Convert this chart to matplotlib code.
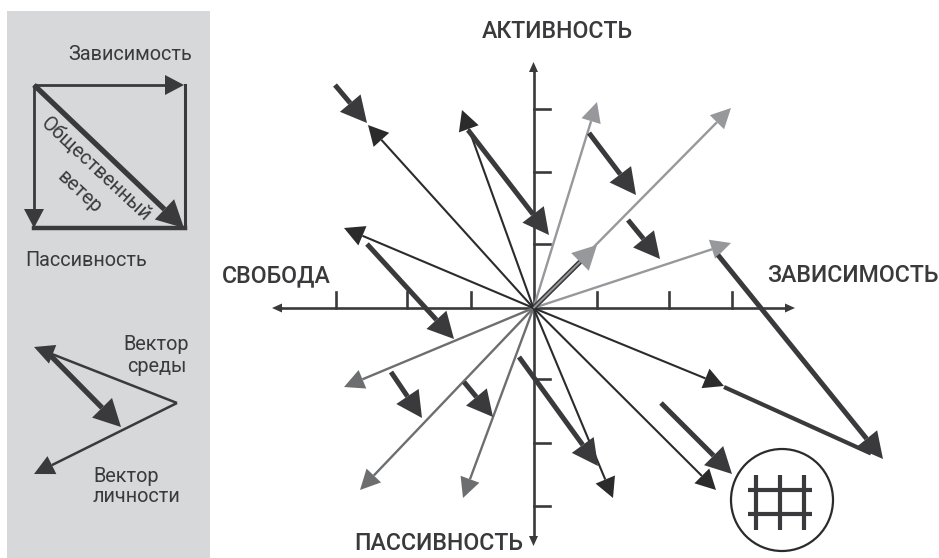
import matplotlib
matplotlib.use('Agg')
import matplotlib.pyplot as plt
import numpy as np
from matplotlib.patches import Circle, Rectangle

# all values, in picture pixels
origin = (533.5, 308)
x_ticks = [336, 407, 471, 597, 669, 732]
y_ticks = [109, 172, 244, 379, 443, 506]

dark_tips = [(368, 125), (462, 110), (344, 228), (724, 386), (716, 490), (613, 498)]
light_tips = [(597, 102), (731, 108), (731, 243)]
mid_tips = [(344, 387), (360, 490), (463, 498)]
short_tip = (597, 245)

wind_starts = [(335, 85), (468, 130), (589, 133), (628, 220), (367, 244),
               (391, 372), (464, 382), (519, 357), (661, 403), (718, 255)]
wind_tips = [(367, 123), (549, 235), (636, 195), (660, 259), (454, 339),
             (422, 418), (493, 417), (598, 466), (732, 474), (883, 459)]
resultant_start = (724, 387)
resultant_end = (883, 459)

square_left, square_right, square_top, square_bottom = 34, 185, 85, 228
env_apex = (177, 403)
env_tips = [(34, 347), (34, 474)]
env_wind = ((50, 355), (121, 427))

grid_x = [756, 780, 804]
grid_y = [490, 514]

DARK = '#3a3a3c'
THIN = '#2b2b2b'
LIGHT = '#97989b'
MID = '#6d6e70'
PANEL = '#d7d8da'

plt.rcParams['font.family'] = ['Roboto', 'DejaVu Sans']

fig = plt.figure(figsize=(9.39, 5.58), dpi=100)
ax = fig.add_axes([0, 0, 1, 1])
ax.set_xlim(0, 939)
ax.set_ylim(558, 0)
ax.axis('off')


def arrow(start, tip, color, lw, head_len, head_w, z=3):
    start = np.array(start, dtype=float)
    tip = np.array(tip, dtype=float)
    d = (tip - start) / np.linalg.norm(tip - start)
    n = np.array([-d[1], d[0]])
    base = tip - d * head_len
    ax.plot([start[0], base[0]], [start[1], base[1]], color=color, lw=lw,
            solid_capstyle='butt', zorder=z)
    head = np.array([tip, base + n * head_w / 2, base - n * head_w / 2])
    ax.fill(head[:, 0], head[:, 1], color=color, lw=0, zorder=z)


# left panel
ax.add_patch(Rectangle((7, 11), 203, 547, color=PANEL, lw=0, zorder=0))
corner = (square_left, square_top)
arrow(corner, (square_right - 1, square_top), DARK, 2.0, 19, 20)
arrow(corner, (square_left, square_bottom), DARK, 2.0, 19, 20)
ax.plot([square_right, square_right], [square_top, square_bottom], color=DARK, lw=2.2, zorder=3)
ax.plot([square_left, square_right], [square_bottom, square_bottom], color=DARK, lw=3.2, zorder=3)
arrow(corner, (square_right - 1, square_bottom), DARK, 3.8, 27, 28)
arrow(env_apex, env_tips[0], DARK, 1.8, 20, 20)
arrow(env_apex, env_tips[1], DARK, 1.8, 20, 20)
arrow(env_wind[0], env_wind[1], DARK, 3.8, 27, 28)

# main axes
ax.plot([280, 787], [origin[1], origin[1]], color=DARK, lw=1.9, zorder=2)
ax.plot([origin[0], origin[0]], [70, 538], color=DARK, lw=1.9, zorder=2)
arrow((280, origin[1]), (272, origin[1]), DARK, 1.9, 10, 9, z=2)
arrow((787, origin[1]), (795, origin[1]), DARK, 1.9, 10, 9, z=2)
arrow((origin[0], 70), (origin[0], 62), DARK, 1.9, 10, 9, z=2)
arrow((origin[0], 538), (origin[0], 546), DARK, 1.9, 10, 9, z=2)
for t in x_ticks:
    ax.plot([t, t], [292, origin[1]], color=DARK, lw=1.9, zorder=2)
for t in y_ticks:
    ax.plot([origin[0], 550], [t, t], color=DARK, lw=1.9, zorder=2)

# vectors from the origin
for tip in light_tips:
    arrow(origin, tip, LIGHT, 1.7, 20, 20)
ax.plot([origin[0], 585], [origin[1], 257], color=DARK, lw=3.6, zorder=3)
arrow(origin, short_tip, LIGHT, 1.4, 24, 25, z=3.5)
for tip in mid_tips:
    arrow(origin, tip, MID, 1.7, 20, 20)
for tip in dark_tips:
    arrow(origin, tip, THIN, 1.5, 20, 21)

for s, t in zip(wind_starts, wind_tips):
    arrow(s, t, DARK, 3.6, 26, 27, z=4)
ax.plot([resultant_start[0], resultant_end[0] - 12], [resultant_start[1], resultant_end[1] - 5.5],
        color=DARK, lw=3.0, solid_capstyle='butt', zorder=4)

# icon
ax.add_patch(Circle((782, 500), 51, fill=False, ec=THIN, lw=1.6, zorder=3))
for x in grid_x:
    ax.plot([x, x], [475, 530], color=DARK, lw=3.0, solid_capstyle='butt', zorder=3)
for y in grid_y:
    ax.plot([748, 812], [y, y], color=DARK, lw=3.0, solid_capstyle='butt', zorder=3)

# text
big = dict(fontsize=16.7, color=DARK, ha='center', va='center', weight='medium')
ax.text(557, 31, 'АКТИВНОСТЬ', **big)
ax.text(276, 276, 'СВОБОДА', **big)
ax.text(853, 276, 'ЗАВИСИМОСТЬ', **big)
ax.text(439, 543, 'ПАССИВНОСТЬ', **big)

small = dict(fontsize=14.3, color=DARK, ha='center', va='center')
ax.text(130, 55, 'Зависимость', **small)
ax.text(86, 260, 'Пассивность', **small)
ax.text(96, 170, 'Общественный', rotation=-43, rotation_mode='anchor', **small)
ax.text(79, 192, 'ветер', rotation=-43, rotation_mode='anchor', **small)
ax.text(156, 345, 'Вектор', **small)
ax.text(157, 366, 'среды', **small)
ax.text(126, 477, 'Вектор', **small)
ax.text(136, 497, 'личности', **small)

fig.savefig('out.png', dpi=100)
